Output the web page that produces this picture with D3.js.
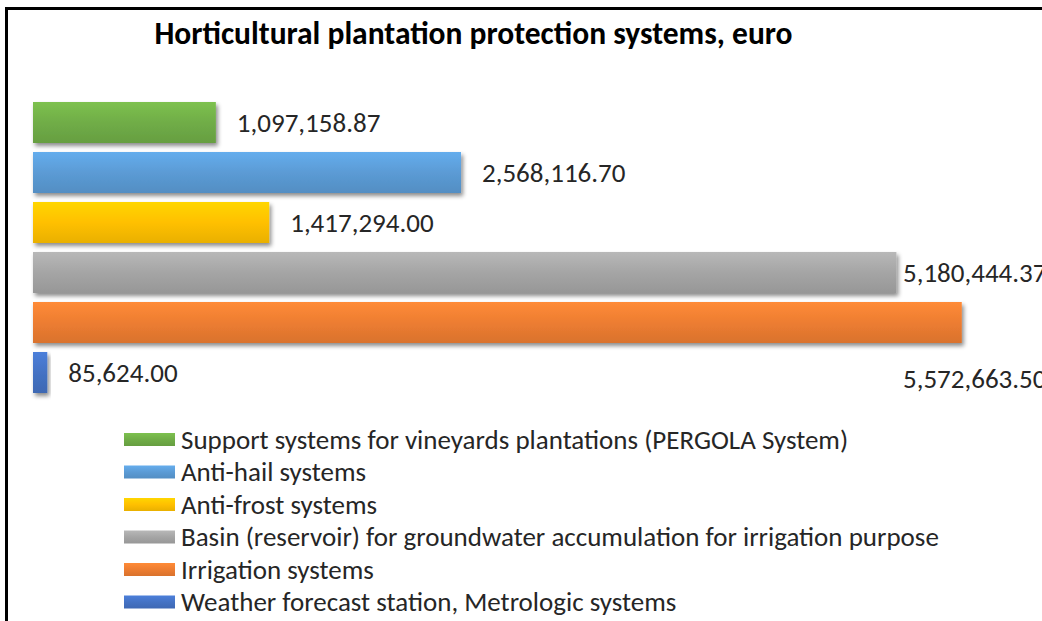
<!DOCTYPE html>
<html>
<head>
<meta charset="utf-8">
<script src="https://cdn.jsdelivr.net/npm/d3@7"></script>
<style>
  body { margin: 0; background: #fff; }
  svg { display: block; font-family: Carlito, Calibri, Lato, sans-serif; }
</style>
</head>
<body>
<svg class="chart"></svg>
<script>
var categories = [
  "Support systems for vineyards plantations (PERGOLA System)",
  "Anti-hail systems",
  "Anti-frost systems",
  "Basin (reservoir) for groundwater accumulation for irrigation purpose",
  "Irrigation systems",
  "Weather forecast station, Metrologic systems"
];
var values = [1097158.87, 2568116.70, 1417294.00, 5180444.37, 5572663.50, 85624.00];
var labels = ["1,097,158.87", "2,568,116.70", "1,417,294.00", "5,180,444.37", "5,572,663.50", "85,624.00"];
var colors = ["#70ad47", "#5b9bd5", "#ffc000", "#a5a5a5", "#ed7d31", "#4472c4"];

var width = 1042, height = 621;
var svg = d3.select(".chart").attr("width", width).attr("height", height);

var defs = svg.append("defs");
var shadow = defs.append("filter").attr("id", "shadow")
  .attr("x", "-10%").attr("y", "-30%").attr("width", "130%").attr("height", "180%");
shadow.append("feDropShadow").attr("dx", 2).attr("dy", 3).attr("stdDeviation", 2)
  .attr("flood-color", "#000").attr("flood-opacity", 0.45);

colors.forEach(function(c, i) {
  var g = defs.append("linearGradient").attr("id", "grad" + i)
    .attr("x1", 0).attr("y1", 0).attr("x2", 0).attr("y2", 1);
  g.append("stop").attr("offset", "0%").attr("stop-color", d3.color(c).brighter(0.3));
  g.append("stop").attr("offset", "50%").attr("stop-color", c);
  g.append("stop").attr("offset", "100%").attr("stop-color", d3.color(c).darker(0.25));
});

// frame (left + top edges visible, rest cropped)
svg.append("path")
  .attr("d", "M6.5," + height + " V8.5 H" + width)
  .attr("fill", "none").attr("stroke", "#000").attr("stroke-width", 3);

// title
svg.append("text")
  .attr("x", 473.5).attr("y", 44)
  .attr("text-anchor", "middle")
  .style("font-weight", "bold").style("font-size", "31.5px").attr("fill", "#000")
  .text("Horticultural plantation protection systems, euro");

var x = d3.scaleLinear().domain([0, 6000000]).range([33, 1033]);
var y = d3.scaleBand().domain(categories).range([97.5, 397.5]).paddingInner(0.18).paddingOuter(0.09);

var bar = svg.selectAll("g.bar")
  .data(categories)
  .enter().append("g").attr("class", "bar");

bar.append("rect")
  .attr("x", x(0))
  .attr("y", function(d) { return y(d); })
  .attr("width", function(d, i) { return x(values[i]) - x(0); })
  .attr("height", y.bandwidth())
  .attr("fill", function(d, i) { return "url(#grad" + i + ")"; })
  .attr("filter", "url(#shadow)");

// data labels; the ones that run past the edge get pulled back (and pushed down if they collide)
var maxLabelX = 903;
var prevClamped = false;
bar.append("text")
  .attr("x", function(d, i) { return Math.min(x(values[i]) + 21, maxLabelX); })
  .attr("y", function(d, i) {
    var cy = y(d) + y.bandwidth() / 2;
    var clamped = x(values[i]) + 21 > maxLabelX;
    if (clamped && prevClamped) cy += y.step() + 6;
    prevClamped = clamped;
    return cy;
  })
  .attr("dy", "0.35em")
  .style("font-size", "27px").attr("fill", "#262626")
  .text(function(d, i) { return labels[i]; });

// legend
var legend = svg.selectAll("g.legend")
  .data(categories)
  .enter().append("g").attr("class", "legend")
  .attr("transform", function(d, i) { return "translate(124," + (439.5 + i * 32.5) + ")"; });

legend.append("rect")
  .attr("x", 0).attr("y", -6.5)
  .attr("width", 51).attr("height", 13)
  .attr("fill", function(d, i) { return "url(#grad" + i + ")"; });

legend.append("text")
  .attr("x", 57).attr("dy", "0.35em")
  .style("font-size", "27px").attr("fill", "#262626")
  .text(function(d) { return d; });
</script>
</body>
</html>
